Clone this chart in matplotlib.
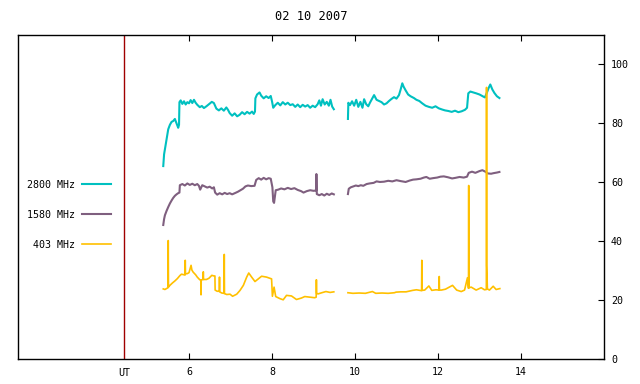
import matplotlib
matplotlib.use("Agg")
import matplotlib.pyplot as plt
import numpy as np

nan = np.nan

# 2800 MHz flux (UT hours, value)
t_2800 = [5.38, 5.40, 5.43, 5.47, 5.50, 5.54, 5.58, 5.62, 5.66, 5.70, 5.74, 5.76, 5.77,
          5.80, 5.84, 5.88, 5.92, 5.96, 6.00, 6.04, 6.08, 6.12, 6.16, 6.20,
          6.26, 6.31, 6.36, 6.42, 6.48, 6.55, 6.60, 6.66, 6.72, 6.78, 6.84, 6.90, 6.94,
          6.98, 7.04, 7.10, 7.16, 7.22, 7.28, 7.34, 7.40, 7.46, 7.52, 7.56, 7.59,
          7.60, 7.64, 7.70, 7.74, 7.80, 7.86, 7.92, 7.97, 8.00, 8.03,
          8.08, 8.14, 8.20, 8.26, 8.32, 8.38, 8.44, 8.50, 8.56, 8.62, 8.68, 8.74,
          8.80, 8.86, 8.92, 8.98, 9.04, 9.10, 9.14, 9.18, 9.22, 9.27, 9.32, 9.37,
          9.41, 9.45, 9.49, 9.6,
          9.83, 9.84, 9.88, 9.93, 9.98, 10.03, 10.08, 10.13, 10.18, 10.22, 10.27,
          10.32, 10.36, 10.41, 10.46, 10.52, 10.58, 10.64, 10.70, 10.76, 10.82,
          10.88, 10.94, 11.00, 11.06, 11.10, 11.14, 11.17, 11.22, 11.28, 11.34,
          11.42, 11.48, 11.55, 11.62, 11.70, 11.78, 11.86, 11.94, 12.02, 12.10,
          12.17, 12.25, 12.33, 12.41, 12.49, 12.57, 12.65, 12.70, 12.73, 12.78,
          12.85, 12.92, 13.00, 13.08, 13.13, 13.18, 13.22, 13.26, 13.31, 13.36,
          13.42, 13.48]
v_2800 = [65.5, 69.5, 72.0, 75.5, 78.0, 79.5, 80.5, 80.8, 81.5, 80.0, 78.5, 79.5, 87.2,
          87.8, 86.6, 87.5, 86.4, 87.2, 86.8, 87.9, 86.9, 88.0, 87.0, 86.3,
          85.5, 85.9, 85.2, 85.8, 86.5, 87.3, 86.9, 85.0, 84.4, 85.1, 84.3, 85.4, 84.6,
          83.5, 82.6, 83.4, 82.4, 82.9, 83.8, 83.1, 83.9, 83.3, 84.0, 83.2, 84.0,
          88.5, 89.8, 90.5, 89.4, 88.5, 89.2, 88.6, 89.3, 87.5, 85.3,
          86.2, 87.0, 86.1, 87.2, 86.4, 87.0, 86.2, 86.5, 85.6, 86.4, 85.5, 86.3,
          85.7, 86.2, 85.3, 86.0, 85.5, 86.5, 87.8, 86.0, 88.2, 86.4, 87.3, 86.0,
          88.0, 85.7, 84.8, nan,
          81.5, 87.0, 86.2, 87.5, 86.0, 88.0, 85.6, 87.3, 85.3, 88.2, 86.5,
          85.8, 87.0, 88.3, 89.6, 88.0, 87.6, 87.2, 86.4, 86.8, 87.6,
          88.3, 88.9, 88.4, 89.6, 91.5, 93.6, 92.5, 91.2, 89.8, 89.2,
          88.6, 88.0, 87.6, 86.8, 86.0, 85.6, 85.3, 85.8, 85.1, 84.7,
          84.4, 84.2, 83.9, 84.3, 83.8, 84.1, 84.6, 85.3, 90.2, 90.8,
          90.5, 90.2, 89.8, 89.2, 88.8, 90.5, 92.0, 93.2, 91.5, 90.3,
          89.2, 88.6]

# 1580 MHz flux
t_1580 = [5.38, 5.40, 5.42, 5.46, 5.50, 5.54, 5.58, 5.62, 5.66, 5.70, 5.74, 5.77, 5.78,
          5.84, 5.90, 5.96, 6.02, 6.08, 6.14, 6.20, 6.24, 6.27, 6.32, 6.38, 6.44,
          6.50, 6.56, 6.60, 6.63, 6.68, 6.74, 6.80, 6.86, 6.92, 6.98, 7.04, 7.12,
          7.18, 7.24, 7.30, 7.36, 7.42, 7.50, 7.58, 7.62, 7.68, 7.74, 7.80, 7.86,
          7.92, 7.97, 8.01, 8.03, 8.05, 8.09, 8.15, 8.22, 8.30, 8.38, 8.46, 8.54,
          8.62, 8.70, 8.76, 8.84, 8.92, 9.00, 9.065, 9.07, 9.08, 9.14, 9.20, 9.26,
          9.32, 9.38, 9.44, 9.49, 9.6,
          9.83, 9.85, 9.90, 9.96, 10.02, 10.08, 10.14, 10.20, 10.28, 10.35, 10.45,
          10.52, 10.60, 10.70, 10.80, 10.90, 11.00, 11.10, 11.22, 11.32, 11.40,
          11.48, 11.58, 11.66, 11.72, 11.80, 11.88, 11.98, 12.06, 12.14, 12.24,
          12.34, 12.42, 12.52, 12.62, 12.70, 12.74, 12.82, 12.90, 13.00, 13.07,
          13.14, 13.20, 13.28, 13.34, 13.42, 13.48]
v_1580 = [45.5, 47.5, 48.8, 50.3, 51.6, 52.8, 53.8, 54.7, 55.4, 55.9, 56.3, 56.5, 59.0,
          59.4, 58.9, 59.6, 59.1, 59.5, 59.0, 59.4, 58.8, 57.5, 59.0, 58.6, 58.2,
          58.5, 57.9, 58.3, 56.5, 55.8, 56.3, 55.9, 56.4, 56.0, 56.3, 55.9, 56.4,
          56.8, 57.3, 57.8, 58.6, 58.9, 58.7, 58.8, 60.8, 61.4, 60.9, 61.5, 61.0,
          61.4, 61.2, 58.3, 53.5, 53.0, 57.3, 57.5, 57.9, 57.6, 58.1, 57.7, 58.0,
          57.4, 57.0, 56.5, 57.0, 57.3, 57.1, 57.2, 62.8, 56.0, 55.6, 56.0, 55.5,
          56.1, 55.7, 56.2, 55.9, nan,
          56.0, 57.8, 58.3, 58.6, 58.9, 58.7, 59.0, 58.8, 59.4, 59.6, 59.8,
          60.3, 60.1, 60.2, 60.5, 60.3, 60.7, 60.4, 60.1, 60.6, 60.9,
          61.0, 61.2, 61.6, 61.8, 61.2, 61.4, 61.6, 61.9, 62.0, 61.7,
          61.3, 61.5, 61.8, 61.6, 61.9, 63.2, 63.6, 63.2, 63.8, 64.1,
          63.6, 63.0, 62.9, 63.1, 63.3, 63.5]

# 403 MHz flux
t_403 = [5.38, 5.42, 5.47, 5.495, 5.50, 5.505, 5.54, 5.60, 5.66, 5.72, 5.78, 5.82,
         5.905, 5.91, 5.915, 5.96, 6.00, 6.05, 6.07, 6.10, 6.16, 6.20, 6.26, 6.285,
         6.29, 6.295, 6.34, 6.345, 6.35, 6.42, 6.48, 6.55, 6.60, 6.625, 6.63, 6.68,
         6.73, 6.735, 6.74, 6.79, 6.845, 6.85, 6.855, 6.91, 6.99, 7.05, 7.15, 7.23,
         7.31, 7.39, 7.44, 7.51, 7.59, 7.67, 7.75, 7.87, 7.99, 8.01, 8.05, 8.09,
         8.19, 8.27, 8.35, 8.47, 8.59, 8.71, 8.79, 8.91, 9.03, 9.065, 9.07, 9.075,
         9.11, 9.20, 9.30, 9.40, 9.49, 9.6,
         9.83, 9.95, 10.10, 10.25, 10.42, 10.50, 10.65, 10.80, 10.95, 10.99, 11.10,
         11.23, 11.39, 11.48, 11.605, 11.61, 11.615, 11.68, 11.78, 11.85, 11.95,
         12.025, 12.03, 12.035, 12.08, 12.18, 12.35, 12.45, 12.56, 12.64, 12.71,
         12.735, 12.74, 12.745, 12.80, 12.92, 13.04, 13.12, 13.165, 13.17, 13.175,
         13.19, 13.24, 13.33, 13.40, 13.49]
v_403 = [23.8, 23.6, 24.0, 24.2, 40.2, 24.4, 25.0, 25.8, 26.5, 27.3, 28.3, 28.8,
         28.5, 33.5, 28.9, 29.0, 29.3, 31.8, 30.2, 29.5, 28.6, 27.8, 26.9, 26.8,
         21.8, 26.8, 27.0, 29.6, 27.0, 27.0, 27.4, 28.4, 28.2, 28.2, 23.4, 23.0,
         23.0, 27.8, 22.8, 22.4, 22.3, 35.5, 22.2, 21.9, 22.0, 21.3, 22.0, 23.3,
         25.0, 27.8, 29.2, 27.8, 26.3, 27.2, 28.1, 27.8, 27.2, 21.3, 24.4, 21.2,
         20.5, 20.1, 21.6, 21.4, 20.2, 20.7, 21.2, 21.0, 20.8, 21.0, 26.9, 22.3,
         22.1, 22.5, 22.9, 22.6, 22.8, nan,
         22.5, 22.3, 22.4, 22.3, 22.9, 22.3, 22.4, 22.3, 22.5, 22.7, 22.8,
         22.8, 23.3, 23.5, 23.2, 33.5, 23.3, 23.4, 24.8, 23.3, 23.5,
         23.4, 28.0, 23.4, 23.4, 23.7, 25.0, 23.4, 22.9, 23.4, 27.6,
         24.0, 58.9, 24.2, 24.4, 23.4, 24.2, 23.5, 23.6, 92.2, 31.8,
         23.8, 23.4, 24.7, 23.6, 23.9]

ut_marker = 4.44
xtick_vals = [6, 8, 10, 12, 14]
ytick_vals = [0, 20, 40, 60, 80, 100]
title = "02 10 2007"

plt.rcParams['font.family'] = ['DejaVu Sans Mono']
plt.rcParams['font.size'] = 7.2

fig = plt.figure(figsize=(6.4, 3.84), dpi=100)
ax = fig.add_axes([18 / 640, 1 - 359 / 384, 586 / 640, 324 / 384])

ax.plot(t_2800, v_2800, color='#00c0c0', lw=1.5, label='2800 MHz')
ax.plot(t_1580, v_1580, color='#7f5f7f', lw=1.5, label='1580 MHz')
ax.plot(t_403, v_403, color='#ffc000', lw=1.2, label='403 MHz')
ax.axvline(ut_marker, color='#a00000', lw=1.0)

ax.set_xlim(1.88, 16)
ax.set_ylim(0, 110)

ax.set_xticks(xtick_vals)
ax.set_xticklabels([str(v) for v in xtick_vals])
ax.tick_params(axis='x', direction='in', length=4, top=True, bottom=True, pad=6)
ax.text(ut_marker, -0.027, 'UT', transform=ax.get_xaxis_transform(),
        ha='center', va='top')

ax.yaxis.tick_right()
ax.set_yticks(ytick_vals)
ax.tick_params(axis='y', direction='in', length=4, left=False, right=True, pad=5)

for s in ax.spines.values():
    s.set_linewidth(1.0)

ax.set_title(title, pad=11)

ax.legend(loc='upper left', bbox_to_anchor=(0.011, 0.562), markerfirst=False,
          frameon=False, handlelength=2.9, handletextpad=0.7, labelspacing=1.98,
          borderaxespad=0, borderpad=0.3)

fig.savefig('out.png', dpi=100)
